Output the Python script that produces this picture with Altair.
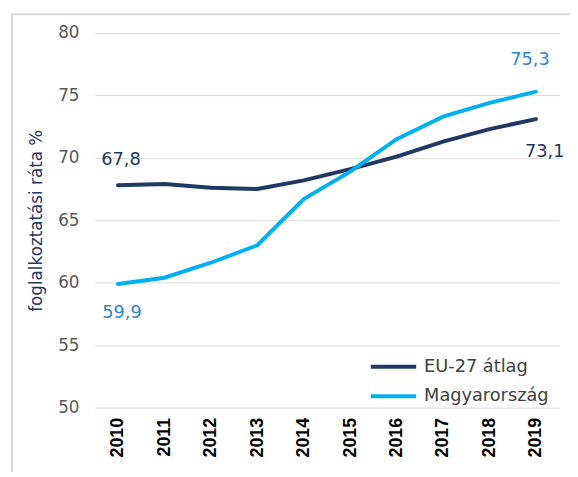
import altair as alt
import pandas as pd

years = [2010, 2011, 2012, 2013, 2014, 2015, 2016, 2017, 2018, 2019]
eu27 = [67.8, 67.9, 67.6, 67.5, 68.2, 69.1, 70.1, 71.3, 72.3, 73.1]
hungary = [59.9, 60.4, 61.6, 63.0, 66.7, 68.9, 71.5, 73.3, 74.4, 75.3]
series_names = ["EU-27 átlag", "Magyarország"]
line_colors = ["#1F3864", "#00B0F0"]
y_ticks = [50, 55, 60, 65, 70, 75, 80]

rows = []
for name, vals in zip(series_names, [eu27, hungary]):
    for yr, v in zip(years, vals):
        rows.append({"year": str(yr), "value": v, "series": name,
                     "label": f"{v:.1f}".replace(".", ",")})
df = pd.DataFrame(rows)

W, H = 471, 380

x_enc = alt.X("year:N", scale=alt.Scale(paddingInner=0, paddingOuter=0),
              axis=alt.Axis(title=None, labelAngle=-90, labelFont="Liberation Sans",
                            labelFontSize=18, labelFontWeight="bold", labelColor="#000000",
                            labelPadding=10, ticks=False, domain=False, grid=False))
y_enc = alt.Y("value:Q", scale=alt.Scale(domain=[50, 80], nice=False, zero=False),
              axis=alt.Axis(values=y_ticks, title="foglalkoztatási ráta %",
                            titleFont="DejaVu Sans", titleFontSize=17, titleFontWeight="normal",
                            titleColor="#1F3864", titlePadding=12,
                            labelFont="DejaVu Sans", labelFontSize=17, labelColor="#595959",
                            labelPadding=16, ticks=False, domain=False,
                            gridColor="#D9D9D9", gridWidth=1))

frame = alt.Chart(pd.DataFrame({"a": [0]})).mark_rect(
    fill=None, stroke="#D9D9D9", strokeWidth=2, clip=False
).encode(x=alt.value(-84), x2=alt.value(W + 40), y=alt.value(-19), y2=alt.value(H + 120))

lines = alt.Chart(df).mark_line(strokeWidth=4, strokeCap="round").encode(
    x=x_enc, y=y_enc,
    color=alt.Color("series:N",
                    scale=alt.Scale(domain=series_names, range=line_colors),
                    legend=alt.Legend(title=None, orient="none", legendX=278, legendY=325,
                                      symbolType="M-1,0H3", symbolSize=529, symbolStrokeWidth=4,
                                      labelFont="DejaVu Sans", labelFontSize=18,
                                      labelColor="#404040", labelOffset=29, rowPadding=7))
)

def lab(series, year, color, dx, dy):
    return alt.Chart(df).transform_filter(
        (alt.datum.series == series) & (alt.datum.year == str(year))
    ).mark_text(font="DejaVu Sans", fontSize=18, color=color, dx=dx, dy=dy).encode(
        x="year:N", y="value:Q", text="label:N")

labels = [
    lab("EU-27 átlag", 2010, "#1F3864", 3, -26),
    lab("EU-27 átlag", 2019, "#1F3864", 9, 33),
    lab("Magyarország", 2010, "#2F87D0", 4, 30),
    lab("Magyarország", 2019, "#2F87D0", -6, -32),
]

chart = alt.layer(frame, lines, *labels).properties(
    width=W, height=H,
    autosize=alt.AutoSizeParams(type="none"),
    padding={"left": 88, "top": 22, "right": 11, "bottom": 62},
    background="white",
).configure_view(stroke=None)

chart.save("out.html", embed_options={"renderer": "svg", "actions": False})
